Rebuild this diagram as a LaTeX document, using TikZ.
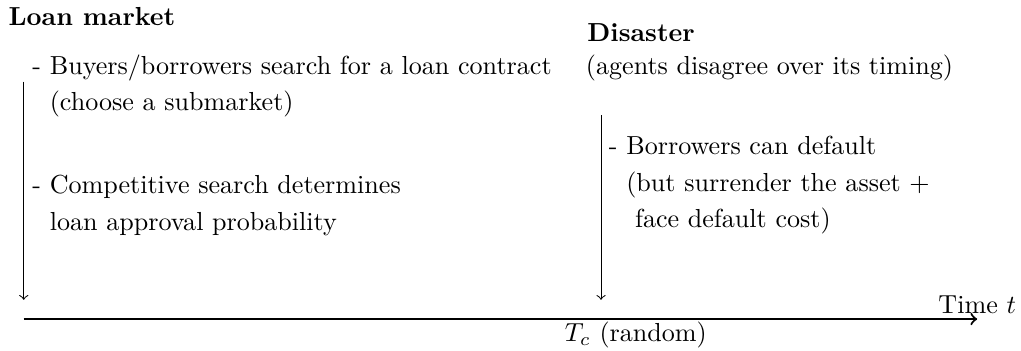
\documentclass[tikz,border=0pt]{standalone}
\usepackage{amsmath}

\tikzset{txt/.style={anchor=base west,inner sep=0pt,align=left}}

\begin{document}
\begin{tikzpicture}

\useasboundingbox (0, 0) rectangle (13.76, 4.73);

% The time axis
\coordinate (start) at (0.32, 0.43);
\coordinate (stop) at (13.17, 0.43);
\draw[thick,->] (start) -- (stop);
\node[above,inner sep=2pt] (time) at (stop) {Time $t$};
\node[below,inner sep=1pt] (tc) at (8.57, 0.43) {$T_c$ (random)};

% The loan market
\node[txt] (loan) at (0.11, 4.38) {\textbf{Loan market}};
\node[txt] (search) at (0.43, 3.24)
  {- Buyers/borrowers search for a loan contract\\[2pt]
   \phantom{- }(choose a submarket)};
\node[txt] (compet) at (0.43, 1.63)
  {- Competitive search determines\\[2pt]
   \phantom{- }loan approval probability};
\coordinate (loantop) at (0.32, 3.63);
\coordinate (loanbot) at (0.32, 0.69);
\draw[->] (loantop) -- (loanbot);

% The disaster
\node[txt] (disaster) at (7.91, 4.17) {\textbf{Disaster}};
\node[txt] (timing) at (7.89, 3.72) {(agents disagree over its timing)};
\node[txt] (default) at (8.20, 1.66)
  {- Borrowers can default\\[2pt]
   \phantom{- }(but surrender the asset $+$\\[2pt]
   \phantom{- }\ face default cost)};
\coordinate (distop) at (8.10, 3.18);
\coordinate (disbot) at (8.10, 0.69);
\draw[->] (distop) -- (disbot);

\end{tikzpicture}
\end{document}
